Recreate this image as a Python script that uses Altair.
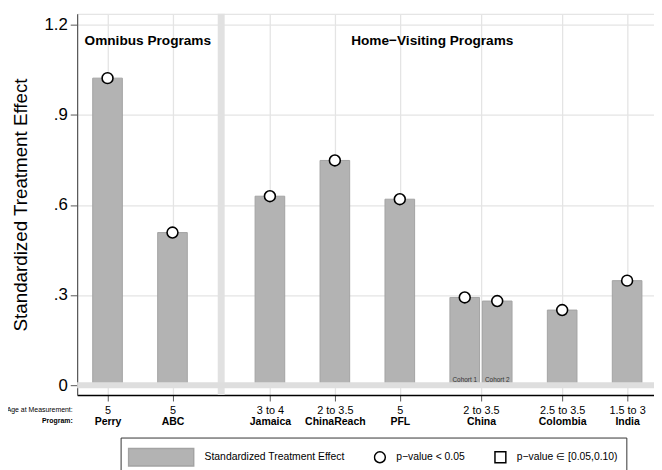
import json
import altair as alt
import pandas as pd

# ---------------- data ----------------
programs = ["Perry", "ABC", "Jamaica", "ChinaReach", "PFL", "China", "Colombia", "India"]
ages = ["5", "5", "3 to 4", "2 to 3.5", "5", "2 to 3.5", "2.5 to 3.5", "1.5 to 3"]
program_slot = [1, 2, 3.5, 4.5, 5.5, 6.75, 8, 9]

bar_program = ["Perry", "ABC", "Jamaica", "ChinaReach", "PFL", "China", "China", "Colombia", "India"]
bar_slot = [1, 2, 3.5, 4.5, 5.5, 6.5, 7, 8, 9]
bar_effect = [1.022, 0.508, 0.629, 0.748, 0.619, 0.292, 0.280, 0.250, 0.348]
bar_cohort = ["", "", "", "", "", "Cohort 1", "Cohort 2", "", ""]

group_labels = ["Omnibus Programs", "Home\u2212Visiting Programs"]
legend_keys = ["Standardized Treatment Effect", "p\u2212value < 0.05", "p\u2212value \u2208 [0.05,0.10)"]
y_ticks = [0, 0.3, 0.6, 0.9, 1.2]

bars_df = pd.DataFrame({"program": bar_program, "slot": bar_slot,
                        "effect": bar_effect, "cohort": bar_cohort})

FONT = "Liberation Sans"
BAR_FILL = "#b3b3b3"
BAR_STROKE = "#a3a3a3"
GRID = "#e4e4e4"

xscale = alt.Scale(domain=[0.608, 9.338], nice=False, zero=False)
yscale = alt.Scale(domain=[-0.0329, 1.2362], nice=False, zero=False)

slot_js = json.dumps(program_slot)
age_expr = f"{json.dumps(ages, ensure_ascii=False)}[indexof({slot_js}, datum.value)]"
prog_expr = f"{json.dumps(programs, ensure_ascii=False)}[indexof({slot_js}, datum.value)]"

axis_age = alt.Axis(
    orient="bottom", values=program_slot, labelExpr=age_expr,
    labelFont=FONT, labelFontSize=11, labelColor="black", labelAngle=0,
    labelBaseline="top", labelPadding=4, labelOverlap=False, labelFlush=False,
    tickSize=6, tickColor="#555555", tickWidth=1,
    domainColor="black", domainWidth=1.4,
    grid=True, gridColor=GRID, gridWidth=1.3,
    title="Age at Measurement:", titleX=-5, titleY=15, titleAlign="right",
    titleBaseline="middle", titleAngle=0, titleFont=FONT, titleFontSize=7,
    titleFontWeight="normal", titleColor="black",
)
axis_prog = alt.Axis(
    orient="bottom", values=program_slot, labelExpr=prog_expr,
    labelFont=FONT, labelFontSize=10.6, labelFontWeight="bold", labelColor="black",
    labelAngle=0, labelBaseline="top", labelPadding=22, labelOverlap=False,
    labelFlush=False, ticks=False, domain=False, grid=False,
    title="Program:", titleX=-5, titleY=26, titleAlign="right",
    titleBaseline="middle", titleAngle=0, titleFont=FONT, titleFontSize=7,
    titleFontWeight="bold", titleColor="black",
)
yaxis = alt.Axis(
    orient="left", values=y_ticks,
    labelExpr="datum.value == 0 ? '0' : replace(format(datum.value, '.1f'), '0.', '.')",
    labelFont=FONT, labelFontSize=17, labelColor="black", labelPadding=3,
    tickSize=7, tickColor="#555555", tickWidth=1,
    domainColor="#555555", domainWidth=1.2,
    grid=True, gridColor=GRID, gridWidth=1.3,
    title="Standardized Treatment Effect", titleFont=FONT, titleFontSize=19,
    titleFontWeight="normal", titleColor="black", titleAngle=270,
    titleX=-51, titleY=193, titleAlign="center", titleBaseline="alphabetic",
)

bars = alt.Chart(bars_df).mark_bar(
    size=30, fill=BAR_FILL, stroke=BAR_STROKE, strokeWidth=1
).encode(
    x=alt.X("slot:Q", scale=xscale, axis=axis_age),
    y=alt.Y("effect:Q", scale=yscale, axis=yaxis),
)

# gray separator between the program groups and the gray band at zero
divider = alt.Chart(pd.DataFrame({"d": [2.75]})).mark_rule(
    color="#e1e1e1", strokeWidth=7
).encode(x=alt.X("d:Q", scale=xscale, axis=None))

zero_band = alt.Chart(pd.DataFrame({"z": [0]})).mark_rule(
    color="#dedede", strokeWidth=6
).encode(y=alt.Y("z:Q", scale=yscale))

circles = alt.Chart(bars_df).mark_point(
    shape="circle", size=121, filled=True, fill="white", stroke="black",
    strokeWidth=1.6, opacity=1
).encode(
    x=alt.X("slot:Q", scale=xscale, axis=axis_prog),
    y=alt.Y("effect:Q", scale=yscale),
)

cohort_text = alt.Chart(bars_df).transform_filter("datum.cohort != ''").mark_text(
    font=FONT, fontSize=6.5, color="#333333", baseline="alphabetic", dy=-3
).encode(
    x=alt.X("slot:Q", scale=xscale, axis=None),
    y=alt.Y(datum=0),
    text="cohort:N",
)

header1 = alt.Chart(pd.DataFrame({"label": [group_labels[0]]})).mark_text(
    font=FONT, fontSize=13.8, fontWeight="bold", color="black", baseline="alphabetic"
).encode(x=alt.X(datum=1.62, axis=None), y=alt.Y(datum=1.132), text="label:N")

header2 = alt.Chart(pd.DataFrame({"label": [group_labels[1]]})).mark_text(
    font=FONT, fontSize=13.8, fontWeight="bold", color="black", baseline="alphabetic"
).encode(x=alt.X(datum=6.0, axis=None), y=alt.Y(datum=1.132), text="label:N")

swatch_path = "M-1,-0.27H1V0.27H-1Z"
legend_layer = alt.Chart(pd.DataFrame({"key": legend_keys})).transform_filter(
    "false"
).mark_point(filled=True, opacity=1).encode(
    shape=alt.Shape("key:N", scale=alt.Scale(domain=legend_keys,
                    range=[swatch_path, "circle", "square"]),
                    legend=alt.Legend(
                        title=None, orient="none", legendX=44, legendY=429,
                        direction="horizontal", strokeColor="#333333", padding=7,
                        labelFont=FONT, labelFontSize=10.5, labelColor="black",
                        labelOffset=10, columnPadding=29, symbolStrokeWidth=1.5,
                        symbolOpacity=1, clipHeight=26, labelLimit=300)),
    fill=alt.Fill("key:N", scale=alt.Scale(domain=legend_keys,
                  range=[BAR_FILL, "white", "white"])),
    stroke=alt.Stroke("key:N", scale=alt.Scale(domain=legend_keys,
                      range=[BAR_STROKE, "black", "black"])),
    size=alt.Size("key:N", scale=alt.Scale(type="ordinal", domain=legend_keys,
                  range=[4356, 121, 121])),
)

chart = alt.layer(
    bars, divider, zero_band, circles, cohort_text, header1, header2, legend_layer
).resolve_axis(x="independent").properties(
    width=584, height=386,
    padding={"left": 70, "top": 3, "right": 0, "bottom": 73},
    autosize=alt.AutoSizeParams(type="none"),
    background="white",
).configure_view(stroke=None).configure(font=FONT)

chart.save("out.html", embed_options={"renderer": "svg", "actions": False})
